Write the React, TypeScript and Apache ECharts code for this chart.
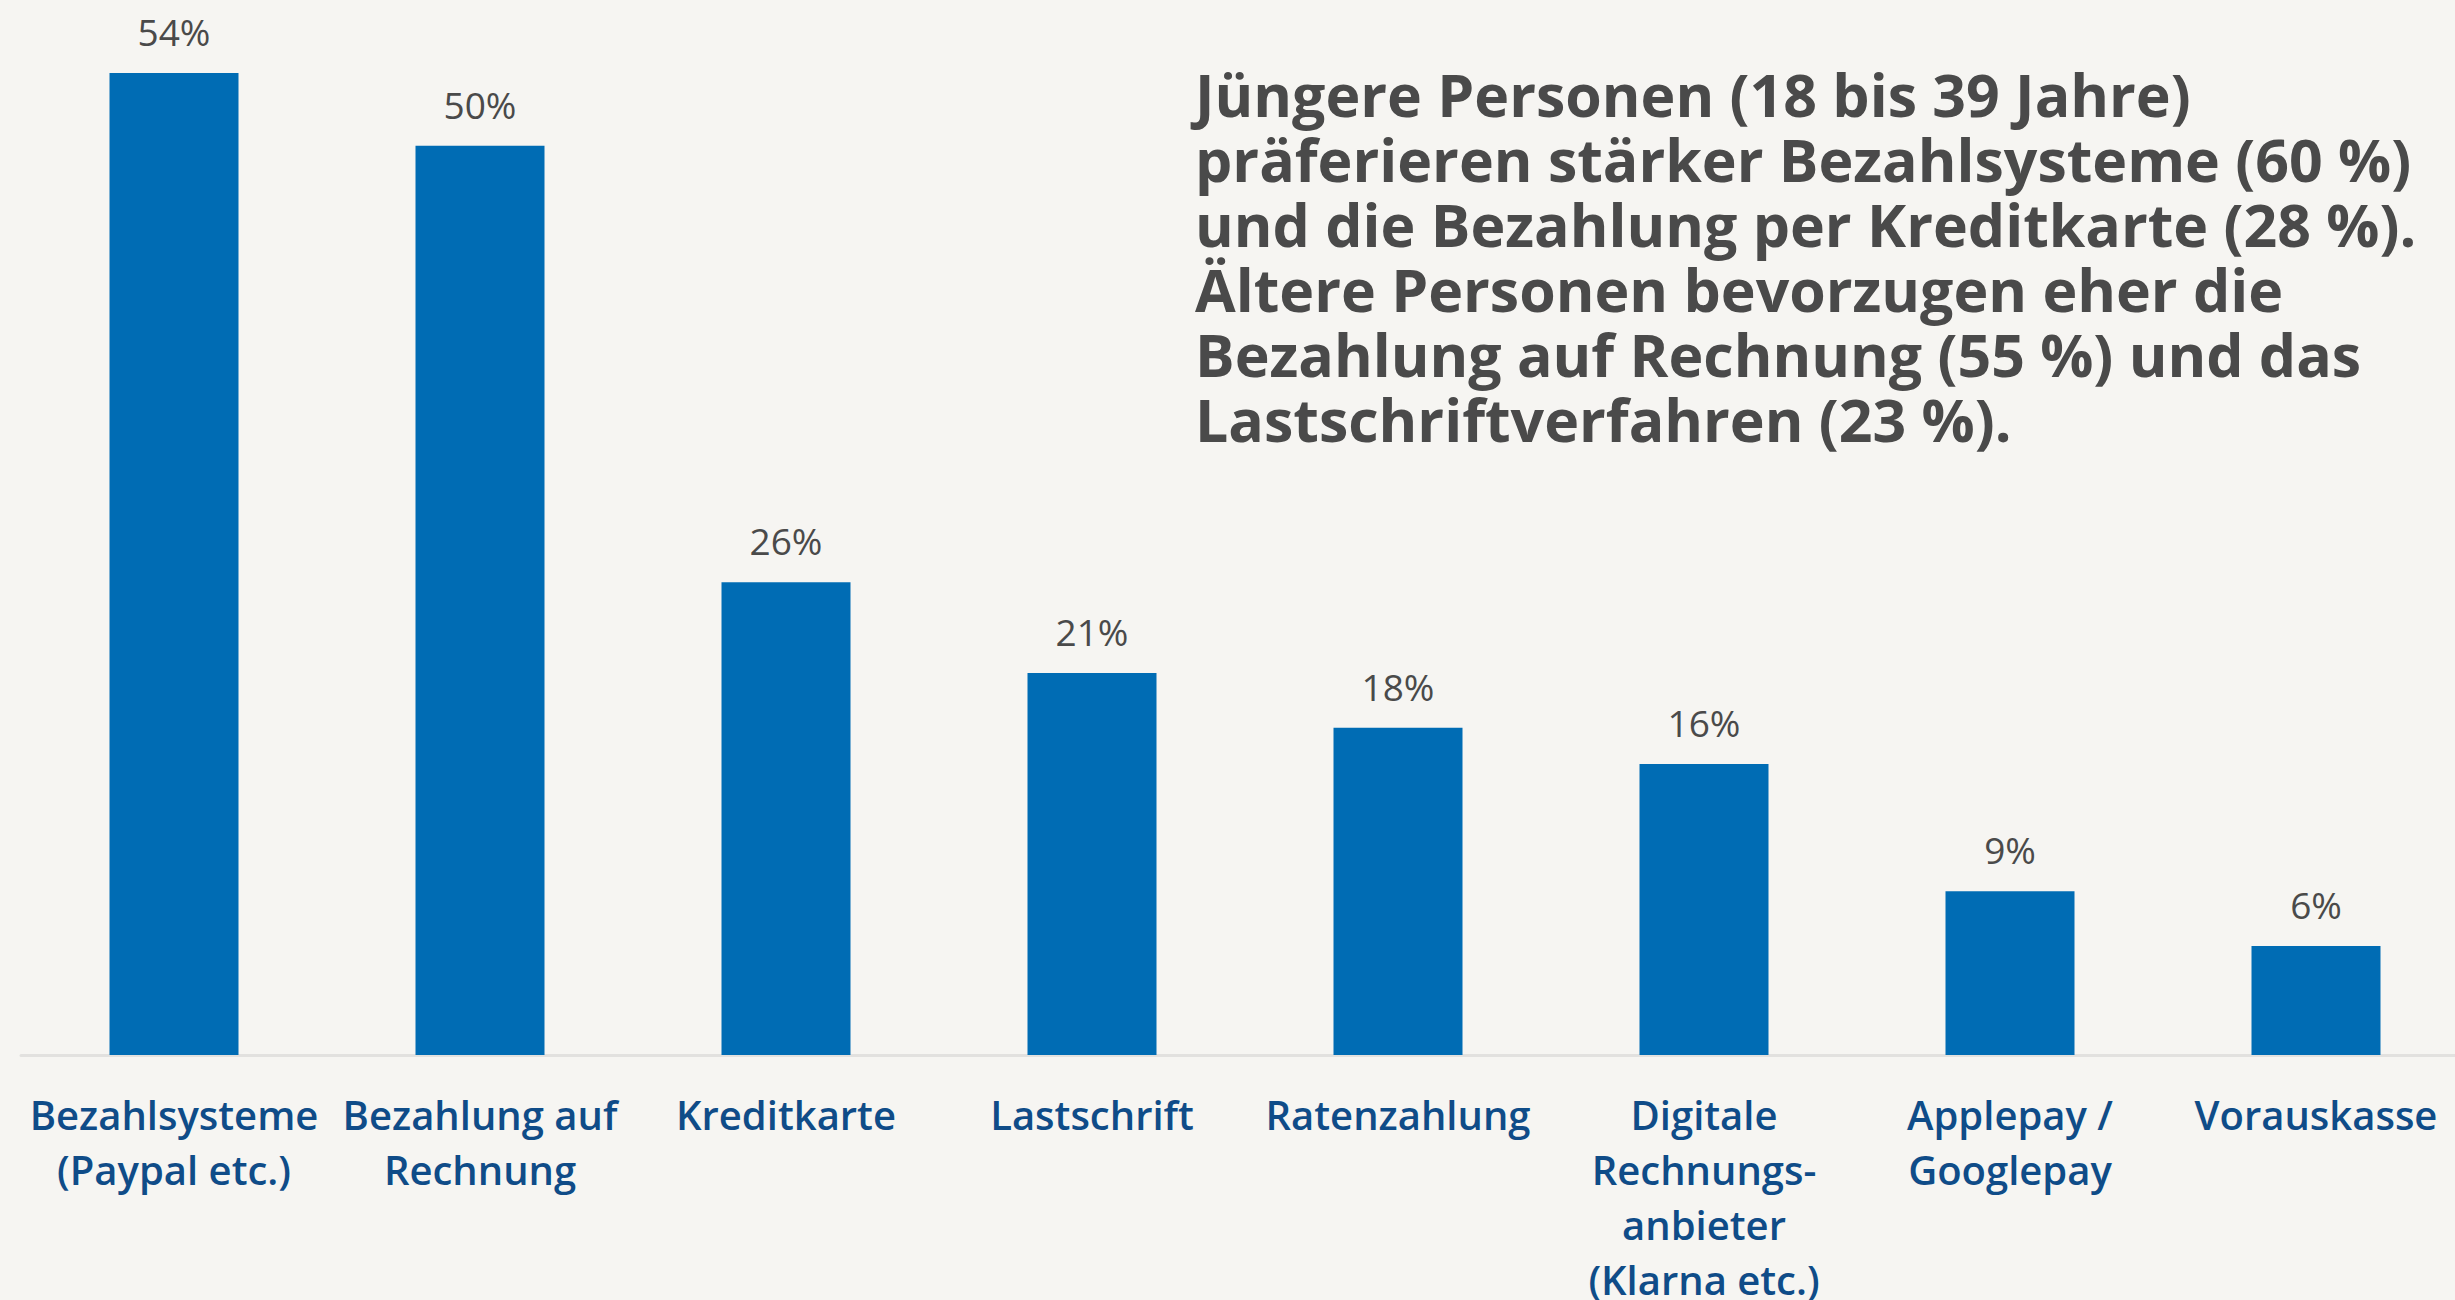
import React, { useEffect, useRef } from "react";
import * as echarts from "echarts";

const categories = [
  "Bezahlsysteme\n(Paypal etc.)",
  "Bezahlung auf\nRechnung",
  "Kreditkarte",
  "Lastschrift",
  "Ratenzahlung",
  "Digitale\nRechnungs-\nanbieter\n(Klarna etc.)",
  "Applepay /\nGooglepay",
  "Vorauskasse",
];
const values = [54, 50, 26, 21, 18, 16, 9, 6];
const annotationLines = [
  "Jüngere Personen (18 bis 39 Jahre)",
  "präferieren stärker Bezahlsysteme (60 %)",
  "und die Bezahlung per Kreditkarte (28 %).",
  "Ältere Personen bevorzugen eher die",
  "Bezahlung auf Rechnung (55 %) und das",
  "Lastschriftverfahren (23 %).",
];

export default function App() {
  const ref = useRef<HTMLDivElement>(null);
  useEffect(() => {
    if (!ref.current) return;
    const chart = echarts.init(ref.current, null, { renderer: "svg" });
    chart.setOption({
      animation: false,
      backgroundColor: "#f6f5f2",
      grid: { left: 21, top: 73, width: 2448, bottom: 245, outerBoundsMode: "none" },
      xAxis: {
        type: "category",
        data: categories,
        axisLine: { show: true, lineStyle: { color: "#e2e1df", width: 3 } },
        axisTick: { show: false },
        axisLabel: {
          interval: 0,
          margin: 32,
          fontFamily: "Open Sans",
          fontSize: 40,
          fontWeight: 600,
          lineHeight: 55,
          color: "#0f4c88",
        },
      },
      yAxis: {
        type: "value",
        min: 0,
        max: 54,
        show: false,
        splitLine: { show: false },
      },
      series: [
        {
          type: "bar",
          data: values,
          barWidth: 129,
          itemStyle: { color: "#006cb4" },
          label: {
            show: true,
            position: "top",
            distance: 23,
            formatter: "{c}%",
            fontFamily: "Open Sans",
            fontSize: 37,
            color: "#4a4a4a",
          },
        },
      ],
      graphic: [
        {
          type: "text",
          left: 1195,
          top: 61,
          style: {
            text: annotationLines.join("\n"),
            font: 'bold 59px "Open Sans"',
            lineHeight: 65,
            fill: "#4a4a4a",
          },
        },
      ],
    });
    return () => chart.dispose();
  }, []);
  return (
    <div
      ref={ref}
      style={{ position: "absolute", left: 0, top: 0, width: 2455, height: 1300 }}
    />
  );
}
